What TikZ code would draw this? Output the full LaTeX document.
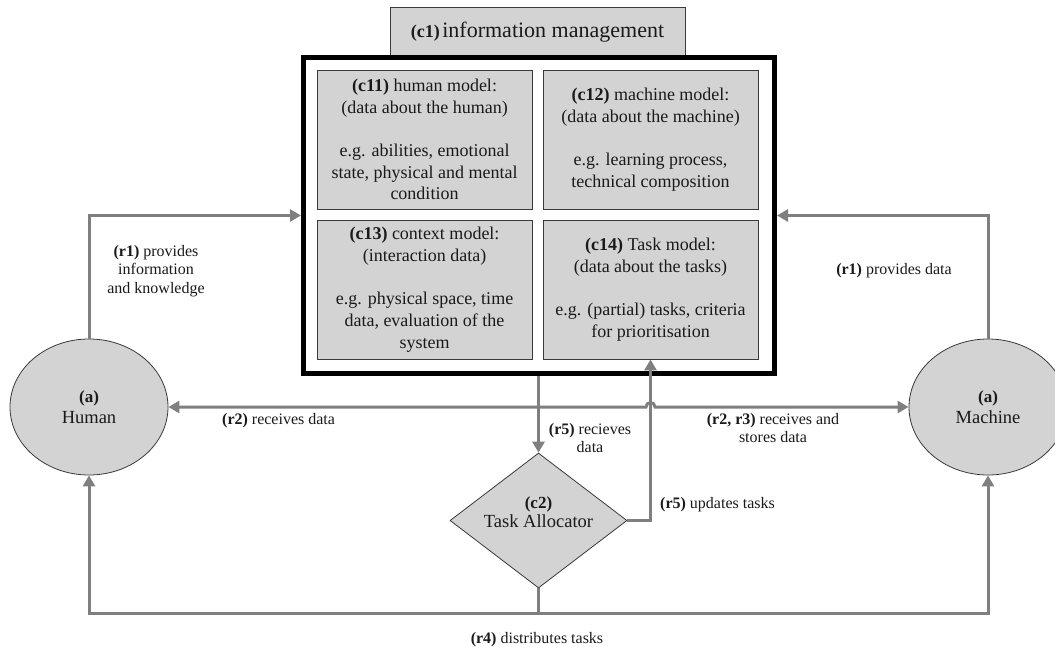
\documentclass[tikz,border=0pt]{standalone}
\usepackage{fontspec}
\setmainfont{Liberation Serif}
\usetikzlibrary{arrows.meta,shapes.geometric,calc}
\definecolor{boxfill}{HTML}{D3D3D3}
\definecolor{linegray}{HTML}{7F7F7F}
\definecolor{edgedark}{HTML}{3A3A3A}
\definecolor{txt}{HTML}{1A1A1A}
\begin{document}
\begin{tikzpicture}[x=1pt,y=-1pt,
  box/.style={draw=edgedark,line width=0.9pt,fill=boxfill,minimum width=215pt,minimum height=139pt,inner sep=0pt,align=center,text=txt,font=\fontsize{18}{21.7}\selectfont},
  actor/.style={ellipse,draw=edgedark,line width=0.8pt,fill=boxfill,minimum width=158pt,minimum height=136pt,inner sep=0pt,align=center,text=txt,font=\fontsize{18.5}{21}\selectfont},
  tip/.style={-{Triangle[length=11pt,width=12pt]}},
  conn/.style={draw=linegray,line width=3pt},
  lbl/.style={text=txt,align=center,font=\fontsize{16}{18.5}\selectfont,inner sep=0pt},
]
\useasboundingbox (0,0) rectangle (1055,646);
\clip (0,0) rectangle (1055,646);
\fill[white] (0,0) rectangle (1055,646);

% title and information management frame
\node[draw=edgedark,line width=0.9pt,fill=boxfill,minimum width=295pt,minimum height=50pt,inner sep=0pt,text=txt] (c1) at (537.5,32)
  {{\fontsize{18}{20}\selectfont\textbf{(c1)}} {\fontsize{22}{26}\selectfont information management}};
\node[draw=black,line width=5pt,minimum width=471pt,minimum height=316pt,inner sep=0pt] (im) at (539,215.5) {};

\node[box] (c11) at (424.5,139.5) {\textbf{(c11)} human model:\\(data about the human)\\[21.7pt]e.g. abilities, emotional\\state, physical and mental\\condition};
\node[box] (c12) at (650.5,139.5) {\textbf{(c12)} machine model:\\(data about the machine)\\[21.7pt]e.g. learning process,\\technical composition};
\node[box] (c13) at (424.5,289.5) {\textbf{(c13)} context model:\\(interaction data)\\[21.7pt]e.g. physical space, time\\data, evaluation of the\\system};
\node[box] (c14) at (650.5,289.5) {\textbf{(c14)} Task model:\\(data about the tasks)\\[21.7pt]e.g. (partial) tasks, criteria\\for prioritisation};

% actors
\node[actor] (human) at (89,407) {{\fontsize{17}{19}\selectfont\textbf{(a)}}\\Human};
\node[actor] (machine) at (988,407) {{\fontsize{17}{19}\selectfont\textbf{(a)}}\\Machine};

% task allocator
\node[diamond,draw=edgedark,line width=0.8pt,fill=boxfill,minimum width=177pt,minimum height=135pt,inner sep=0pt] (c2) at (538.5,520.5) {};
\node[text=txt,align=center,font=\fontsize{18.5}{19}\selectfont,inner sep=0pt] (c2t) at (538.5,512) {{\fontsize{17}{19}\selectfont\textbf{(c2)}}\\Task Allocator};

% helper coordinates
\coordinate (hopL) at ($(c14.south |- human.center)+(-4.5,0)$);
\coordinate (bot) at ($(c2.south)+(0,25)$);

% connectors
\draw[conn,tip] (human.north) |- (im.west);
\draw[conn,tip] (machine.north) |- (im.east);
\draw[conn,{Triangle[length=11pt,width=12pt]}-{Triangle[length=11pt,width=12pt]}] (human) -- (hopL) arc[start angle=180,end angle=360,radius=4.5] -- (machine);
\draw[conn,tip] (im.south -| c2.north) -- (c2.north);
\draw[conn,tip] (c2.east) -| (c14.south);
\draw[conn] (c2.south) -- (bot);
\draw[conn,tip] (bot) -| (human.south);
\draw[conn,tip] (bot) -| (machine.south);

% labels
\node[lbl] (l1) at (156,271) {\textbf{(r1)} provides\\information\\and knowledge};
\node[lbl] (l2) at (894,271) {\textbf{(r1)} provides data};
\node[lbl,anchor=west] (l3) at (222,421) {\textbf{(r2)} receives data};
\node[lbl] (l4) at (773,428) {\textbf{(r2, r3)} receives and\\stores data};
\node[lbl] (l5) at (590,438) {\textbf{(r5)} recieves\\data};
\node[lbl,anchor=west] (l6) at (660,505) {\textbf{(r5)} updates tasks};
\node[lbl] (l7) at (537,640) {\textbf{(r4)} distributes tasks};
\end{tikzpicture}
\end{document}
